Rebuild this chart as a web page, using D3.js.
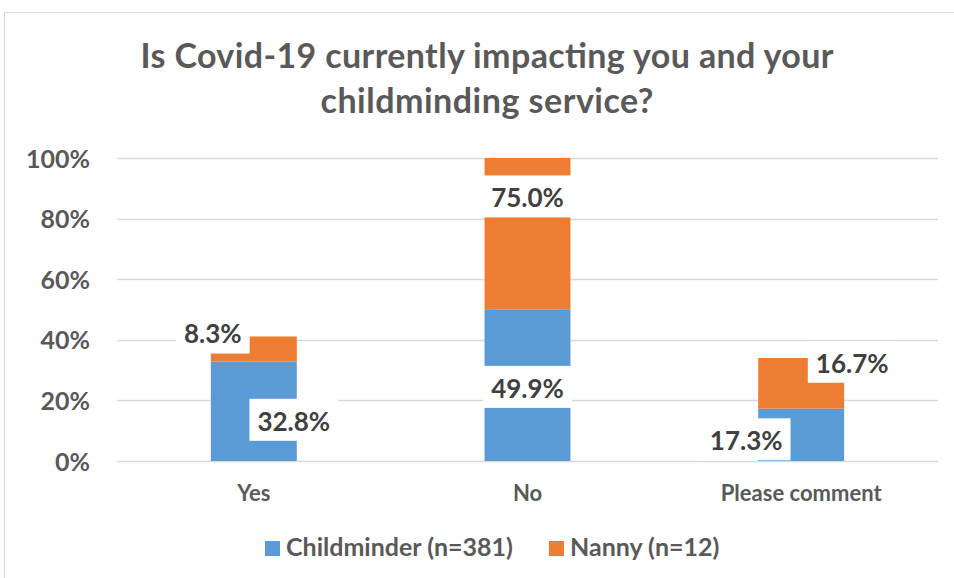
<!DOCTYPE html>
<html>
<head>
<meta charset="utf-8">
<script src="https://cdn.jsdelivr.net/npm/d3@7"></script>
<style>
  html, body { margin: 0; padding: 0; background: #fff; }
  svg { display: block; font-family: Lato, "Open Sans", sans-serif; }
</style>
</head>
<body>
<svg id="chart" width="954" height="578"></svg>
<script>
// Survey answers, as a share of each respondent group
const categories = ["Yes", "No", "Please comment"];
const seriesNames = ["Childminder (n=381)", "Nanny (n=12)"];
const childminder = [32.8, 49.9, 17.3];
const nanny = [8.3, 75.0, 16.7];
const yTicks = [0, 20, 40, 60, 80, 100];
const titleLines = ["Is Covid-19 currently impacting you and your", "childminding service?"];

// Hand-placed label offsets (px) from each segment's centre: [childminder, nanny] per category
const labelOffsets = [
  [[40, 10], [-41, -15]],
  [[0, 3], [0, -36]],
  [[-55, 6], [51, -20]]
];

const colors = ["#5B9BD5", "#ED7D31"];
const svg = d3.select("#chart");
const W = 954, H = 578;
const plot = { left: 117, right: 938, top: 158, bottom: 461 };

// Chart frame
svg.append("path")
  .attr("d", `M4.5,${H} V12.5 H${W}`)
  .attr("fill", "none").attr("stroke", "#D9D9D9").attr("stroke-width", 1);

// Title, two centred lines
const titleWidths = [693, 333];
svg.append("g").selectAll("text").data(titleLines).join("text")
  .attr("x", 487).attr("y", (d, i) => 68 + i * 45)
  .attr("text-anchor", "middle")
  .attr("font-size", 34).attr("font-weight", 700).attr("fill", "#595959")
  .attr("textLength", (d, i) => titleWidths[i]).attr("lengthAdjust", "spacing")
  .text(d => d);

const x = d3.scaleBand().domain(categories).range([plot.left, plot.right]).paddingInner(0.686).paddingOuter(0.343);
const y = d3.scaleLinear().domain([0, 100]).range([plot.bottom, plot.top]).clamp(true);

// Gridlines
svg.append("g").selectAll("line").data(yTicks).join("line")
  .attr("x1", plot.left).attr("x2", plot.right)
  .attr("y1", d => Math.round(y(d)) + 0.5).attr("y2", d => Math.round(y(d)) + 0.5)
  .attr("stroke", "#D9D9D9").attr("stroke-width", 1.5);

// Y axis tick labels
const yAxis = d3.axisLeft(y).tickValues(yTicks).tickFormat(d => d + "%").tickSize(0).tickPadding(0);
const yg = svg.append("g").attr("transform", "translate(90,0)").call(yAxis);
yg.select(".domain").remove();
yg.selectAll("text").attr("font-family", "Lato, sans-serif").attr("font-size", 25)
  .attr("font-weight", 700).attr("fill", "#595959").attr("dy", "0.36em");

// Category axis labels
const xAxis = d3.axisBottom(x).tickSize(0).tickPadding(0);
const xg = svg.append("g").attr("transform", `translate(0,${plot.bottom})`).call(xAxis);
xg.select(".domain").remove();
xg.selectAll("text").attr("font-family", "Lato, sans-serif").attr("font-size", 22)
  .attr("font-weight", 700).attr("fill", "#595959").attr("dy", null).attr("y", 40);

// Stacked bars
const rows = categories.map((c, i) => ({ cat: c, Childminder: childminder[i], Nanny: nanny[i] }));
const stack = d3.stack().keys(["Childminder", "Nanny"])(rows);
const segs = [];
stack.forEach((layer, si) => layer.forEach((d, ci) => segs.push({
  si, ci, cat: categories[ci], y0: d[0], y1: d[1], value: d[1] - d[0]
})));

svg.append("g").selectAll("rect").data(segs).join("rect")
  .attr("x", d => x(d.cat)).attr("width", x.bandwidth())
  .attr("y", d => y(d.y1)).attr("height", d => y(d.y0) - y(d.y1))
  .attr("fill", d => colors[d.si]);

// Data labels on white boxes
const lg = svg.append("g");
segs.forEach(d => {
  const off = labelOffsets[d.ci][d.si];
  const cx = x(d.cat) + x.bandwidth() / 2 + off[0];
  const cy = y((d.y0 + Math.min(d.y1, 100)) / 2) + off[1];
  const g = lg.append("g");
  const rect = g.append("rect").attr("fill", "#fff");
  const t = g.append("text")
    .attr("x", cx).attr("y", cy).attr("dy", "0.36em")
    .attr("text-anchor", "middle")
    .attr("font-size", 26).attr("font-weight", 700).attr("fill", "#404040")
    .text(d.value.toFixed(1) + "%");
  const w = t.node().getComputedTextLength() + 16;
  rect.attr("x", cx - w / 2).attr("y", cy - 22.5).attr("width", w).attr("height", 42);
});

// Legend
const legendX = [265, 549];
const leg = svg.append("g").selectAll("g").data(seriesNames).join("g")
  .attr("transform", (d, i) => `translate(${legendX[i]},541)`);
leg.append("rect").attr("width", 15).attr("height", 15).attr("fill", (d, i) => colors[i]);
leg.append("text").attr("x", 21).attr("y", 15)
  .attr("font-size", 25).attr("font-weight", 700).attr("fill", "#595959")
  .text(d => d);
</script>
</body>
</html>
